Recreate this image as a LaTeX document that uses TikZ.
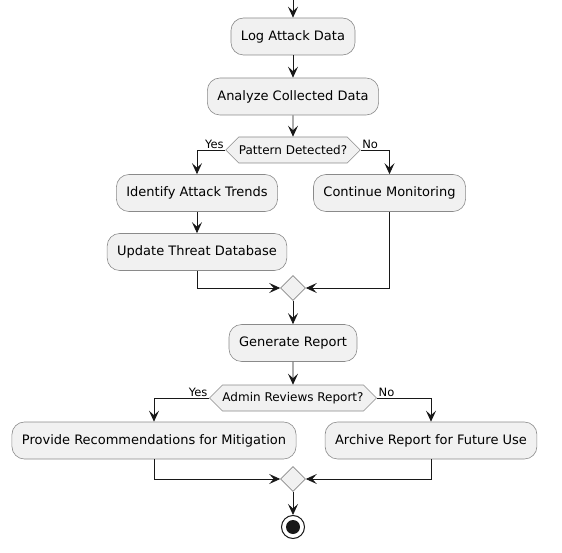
\documentclass[tikz,border=0pt]{standalone}
\usepackage{fontspec}
\setmainfont{DejaVu Sans}
\usepackage{xcolor}
\usetikzlibrary{arrows.meta,shapes.geometric,shapes.symbols}

\definecolor{actfill}{HTML}{F1F1F1}
\definecolor{actline}{HTML}{8A8A8A}
\definecolor{flowline}{HTML}{181818}

\tikzset{
  act/.style={draw=actline, line width=0.6pt, fill=actfill, rounded corners=12.5pt,
    inner xsep=10pt, minimum height=37pt, font=\fontsize{13}{15}\selectfont},
  cond/.style={draw=actline, line width=0.6pt, fill=actfill, signal, signal to=west and east,
    signal pointer angle=90, inner xsep=0pt, minimum height=26pt, font=\fontsize{12}{14}\selectfont},
  merge/.style={draw=actline, line width=0.6pt, fill=actfill, diamond, inner sep=0pt, minimum size=25pt},
  lbl/.style={inner sep=1.5pt, font=\fontsize{11.5}{13}\selectfont},
  flow/.style={draw=flowline, line width=0.9pt, -{Stealth[length=11pt,width=10pt,inset=4.5pt]}},
  stopnode/.style={circle, draw=flowline, line width=1pt, fill=white, minimum size=23pt, inner sep=0pt,
    path picture={\fill[flowline] (path picture bounding box.center) circle (7pt);}}
}

\begin{document}
\begin{tikzpicture}[x=1pt, y=-1pt]
		\useasboundingbox (0,0) rectangle (562,553);
		% actions
		\coordinate (start) at (293,0);
		\node [act] (log) at (293,36.5) {Log Attack Data};
		\node [act] (analyze) at (293,96.5) {Analyze Collected Data};
		\node [cond] (pattern) at (293,150) {Pattern Detected?};
		\node [act] (trends) at (197,193) {Identify Attack Trends};
		\node [act] (monitor) at (389.5,193) {Continue Monitoring};
		\node [act] (update) at (197,252) {Update Threat Database};
		\node [merge] (join1) at (293,288) {};
		\node [act] (report) at (293,343) {Generate Report};
		\node [cond] (review) at (293,398) {Admin Reviews Report?};
		\node [act] (mitigate) at (154,440.5) {Provide Recommendations for Mitigation};
		\node [act] (archive) at (431,440.5) {Archive Report for Future Use};
		\node [merge] (join2) at (293,479) {};
		\node [stopnode] (stop) at (293,527) {};
		% labels
		\node [lbl, anchor=south east] (yes1) at (pattern.west) {Yes};
		\node [lbl, anchor=south west] (no1) at (pattern.east) {No};
		\node [lbl, anchor=south east] (yes2) at (review.west) {Yes};
		\node [lbl, anchor=south west] (no2) at (review.east) {No};
		% arrows
		\draw [flow] (start) -- (log);
		\draw [flow] (log) -- (analyze);
		\draw [flow] (analyze) -- (pattern);
		\draw [flow] (pattern.west) -| (trends.north);
		\draw [flow] (pattern.east) -| (monitor.north);
		\draw [flow] (trends) -- (update);
		\draw [flow] (update.south) |- (join1.west);
		\draw [flow] (monitor.south) |- (join1.east);
		\draw [flow] (join1) -- (report);
		\draw [flow] (report) -- (review);
		\draw [flow] (review.west) -| (mitigate.north);
		\draw [flow] (review.east) -| (archive.north);
		\draw [flow] (mitigate.south) |- (join2.west);
		\draw [flow] (archive.south) |- (join2.east);
		\draw [flow] (join2) -- (stop);
\end{tikzpicture}
\end{document}
